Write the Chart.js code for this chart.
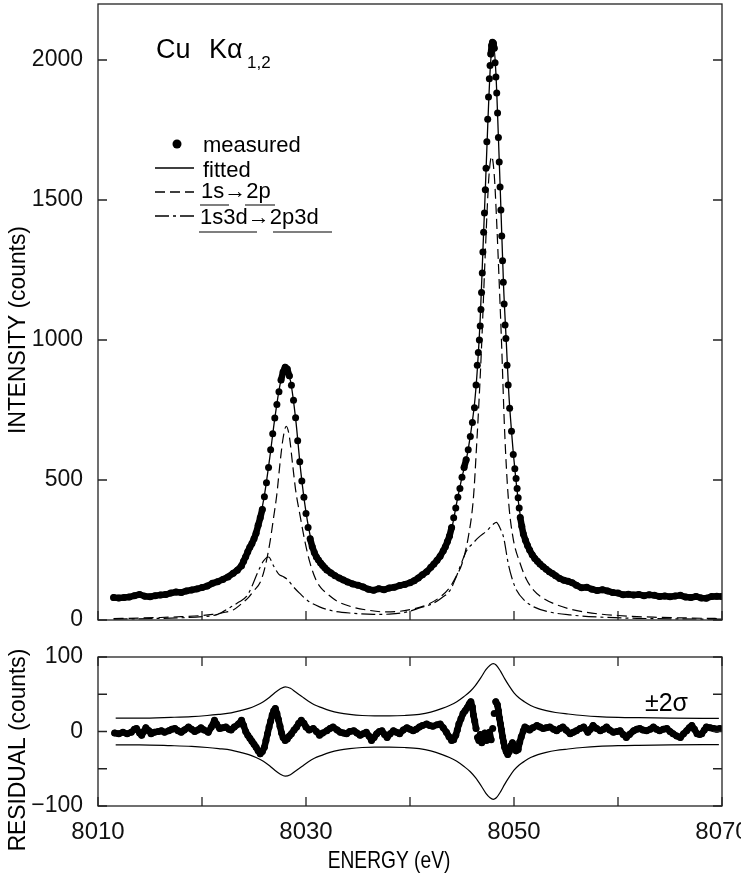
<!DOCTYPE html>
<html>
<head>
<meta charset="utf-8">
<script src="https://cdn.jsdelivr.net/npm/chart.js@4.4.0/dist/chart.umd.min.js"></script>
<style>
  body { margin: 0; background: #fff; width: 741px; height: 877px; overflow: hidden; position: relative; }
  canvas { position: absolute; left: 0; }
  #topChart { top: 0; }
  #residChart { top: 630px; }
</style>
</head>
<body>
<canvas id="topChart" width="741" height="630"></canvas>
<canvas id="residChart" width="741" height="247"></canvas>
<script>
// measured spectrum (eV, counts)
const measE = [8011.5,8012.0,8012.5,8013.0,8013.5,8014.0,8014.5,8015.0,8015.5,8016.0,8016.5,8017.0,8017.5,8018.0,8018.5,8019.0,8019.5,8020.0,8020.5,8021.0,8021.5,8022.0,8022.5,8023.0,8023.4,8023.8,8024.0,8024.2,8024.4,8024.6,8024.8,8025.0,8025.2,8025.4,8025.6,8025.8,8026.0,8026.2,8026.4,8026.6,8026.8,8027.0,8027.2,8027.4,8027.6,8027.8,8028.0,8028.2,8028.4,8028.6,8028.8,8029.0,8029.2,8029.4,8029.6,8029.8,8030.0,8030.2,8030.4,8030.6,8030.8,8031.0,8031.2,8031.4,8031.6,8031.8,8032.0,8032.4,8032.8,8033.2,8033.6,8034.0,8034.5,8035.0,8035.5,8036.0,8036.5,8037.0,8037.5,8038.0,8038.5,8039.0,8039.5,8040.0,8040.4,8040.8,8041.2,8041.6,8042.0,8042.3,8042.6,8042.9,8043.2,8043.4,8043.6,8043.8,8044.0,8044.2,8044.4,8044.6,8044.8,8045.0,8045.2,8045.4,8045.6,8045.8,8046.0,8046.2,8046.35,8046.47,8046.57,8046.67,8046.75,8046.82,8046.88,8046.95,8047.01,8047.08,8047.16,8047.24,8047.31,8047.39,8047.47,8047.55,8047.63,8047.70,8047.77,8047.85,8047.93,8048.02,8048.10,8048.18,8048.26,8048.34,8048.42,8048.50,8048.58,8048.66,8048.74,8048.82,8048.90,8048.97,8049.05,8049.14,8049.22,8049.33,8049.44,8049.58,8049.76,8049.93,8050.08,8050.2,8050.3,8050.4,8050.5,8050.6,8050.75,8050.9,8051.1,8051.3,8051.5,8051.75,8052.0,8052.25,8052.5,8052.8,8053.1,8053.4,8053.7,8054.0,8054.4,8054.8,8055.2,8055.6,8056.0,8056.5,8057.0,8057.5,8058.0,8058.5,8059.0,8059.5,8060.0,8060.5,8061.0,8061.5,8062.0,8062.5,8063.0,8063.5,8064.0,8064.5,8065.0,8065.5,8066.0,8066.5,8067.0,8067.5,8068.0,8068.5,8069.0,8069.5,8070.0];
const measI = [80,79,80,82,87,91,85,83,87,89,91,96,100,98,104,107,111,116,121,131,137,145,154,167,178,194,210,226,244,260,273,290,310,338,365,395,440,490,545,608,665,721,770,815,857,886,903,896,872,838,785,722,640,565,496,438,380,330,290,262,241,225,214,204,195,187,179,168,158,150,143,136,129,124,118,110,106,112,108,114,117,123,127,133,140,150,162,172,188,200,213,228,247,262,280,300,330,365,400,438,470,510,545,572,608,655,705,758,839,910,955,1000,1050,1109,1170,1239,1314,1385,1454,1537,1613,1708,1788,1868,1933,1980,2021,2052,2063,2060,2042,1990,1939,1882,1811,1723,1636,1546,1464,1371,1283,1206,1129,1054,1005,910,839,756,674,591,540,505,470,437,400,366,335,307,285,266,250,233,220,210,200,190,181,172,166,158,148,142,138,133,124,115,117,110,105,108,104,98,96,90,92,89,91,87,90,88,84,86,83,86,88,82,80,84,79,78,84,85,84];

// fitted total
const fitE = [8011.5,8013,8015,8017,8019,8020,8021,8022,8023,8023.5,8024,8024.5,8025,8025.5,8026,8026.5,8027,8027.5,8028,8028.5,8029,8029.5,8030,8030.5,8031,8031.5,8032,8033,8034,8035,8036,8037,8038,8039,8040,8041,8042,8042.5,8043,8043.5,8044,8044.5,8045,8045.5,8046,8046.25,8046.5,8046.75,8047,8047.25,8047.5,8047.75,8048,8048.25,8048.5,8048.75,8049,8049.25,8049.5,8049.75,8050,8050.5,8051,8051.5,8052,8053,8054,8055,8056,8057,8058,8059,8060,8062,8064,8066,8068,8070];
const fitI = [78,82,86,95,106,115,127,143,166,180,200,235,285,350,445,575,720,840,900,855,720,530,385,285,228,198,178,152,134,122,115,112,114,121,133,155,188,210,238,272,325,420,510,590,710,790,910,1075,1310,1545,1790,1990,2060,1960,1725,1460,1190,1000,810,680,570,400,295,250,218,182,156,138,124,114,106,101,96,91,87,85,83,82];

// 1s -> 2p component (dashed)
const diagE = [8011.5,8014,8016,8018,8020,8021,8022,8023,8023.7,8024.5,8025.0,8025.6,8026.0,8026.5,8026.9,8027.2,8027.5,8027.8,8028.1,8028.4,8028.7,8029.0,8029.4,8029.9,8030.4,8031.0,8031.5,8032.0,8033.0,8034.5,8036.0,8037.5,8039.0,8040.0,8041.0,8041.9,8043.0,8043.85,8044.5,8045.0,8045.6,8046.1,8046.4,8046.7,8046.9,8047.15,8047.4,8047.6,8047.85,8048.1,8048.3,8048.55,8048.8,8049.1,8049.45,8049.9,8050.6,8051.2,8051.9,8052.8,8053.8,8055.5,8057.0,8060.0,8063.4,8067.0,8070.0];
const diagI = [5,7,9,12,16,20,26,36,55,82,105,135,180,270,370,450,560,650,692,655,560,465,379,280,202,140,112,95,67,46,35,29,31,37,46,59,85,118,160,201,295,437,620,830,993,1230,1450,1590,1655,1590,1450,1230,993,674,437,295,201,145,106,78,59,38,27,16,10,7,5];

// 1s3d -> 2p3d satellite (dash-dot)
const satE = [8011.5,8015,8018,8020,8021.5,8022.7,8023.5,8024.3,8024.8,8025.3,8025.9,8026.4,8026.9,8027.4,8027.8,8028.2,8028.8,8029.4,8030.2,8031.3,8032.5,8034.5,8036.5,8038.0,8039.5,8041.0,8042.2,8043.0,8043.85,8044.4,8044.8,8045.45,8046.0,8046.6,8047.4,8048.0,8048.3,8048.7,8049.0,8049.45,8049.8,8050.25,8051.0,8051.9,8053.5,8055.4,8058.0,8061.8,8066.0,8070.0];
const satI = [3,5,8,12,20,45,63,85,120,165,210,225,192,163,155,145,118,95,68,47,33,24,20,21,27,44,59,78,106,150,189,248,272,295,319,342,349,325,295,201,150,106,70,47,28,18,11,6,4,3];

// residual (counts)
const resE = [8011.6,8012.0,8012.4,8012.8,8013.2,8013.5,8013.7,8014.0,8014.2,8014.4,8014.6,8014.9,8015.1,8015.4,8015.8,8016.1,8016.4,8016.8,8017.1,8017.4,8017.7,8018.0,8018.3,8018.7,8019.0,8019.3,8019.6,8019.9,8020.2,8020.6,8020.9,8021.2,8021.4,8021.7,8022.0,8022.3,8022.6,8022.8,8023.1,8023.5,8023.8,8024.0,8024.2,8024.4,8024.6,8024.8,8025.0,8025.2,8025.4,8025.6,8025.8,8026.0,8026.15,8026.3,8026.45,8026.6,8026.75,8026.9,8027.05,8027.2,8027.35,8027.5,8027.65,8027.8,8028.0,8028.2,8028.4,8028.6,8028.85,8029.1,8029.3,8029.55,8029.8,8030.0,8030.3,8030.7,8031.0,8031.3,8031.6,8032.0,8032.3,8032.6,8033.0,8033.3,8033.6,8033.9,8034.2,8034.6,8034.9,8035.2,8035.5,8035.8,8036.05,8036.3,8036.55,8036.8,8037.05,8037.3,8037.55,8037.8,8038.1,8038.4,8038.7,8039.0,8039.35,8039.7,8040.0,8040.3,8040.6,8040.9,8041.2,8041.6,8041.9,8042.2,8042.6,8042.9,8043.2,8043.5,8043.75,8044.0,8044.2,8044.4,8044.55,8044.7,8044.9,8045.1,8045.3,8045.5,8045.7,8045.85,8046.0,8046.1,8046.22,8046.35,8046.5,8046.62,8046.75,8046.9,8047.05,8047.2,8047.35,8047.5,8047.65,8047.8,8047.95,8048.1,8048.25,8048.4,8048.5,8048.6,8048.7,8048.8,8048.9,8049.0,8049.1,8049.25,8049.4,8049.55,8049.7,8049.85,8050.0,8050.2,8050.4,8050.55,8050.7,8050.9,8051.05,8051.3,8051.5,8051.8,8052.2,8052.5,8052.8,8053.1,8053.45,8053.8,8054.1,8054.4,8054.7,8055.0,8055.4,8055.7,8056.0,8056.35,8056.7,8057.1,8057.35,8057.6,8057.95,8058.3,8058.6,8058.9,8059.2,8059.55,8059.9,8060.2,8060.5,8060.8,8061.1,8061.5,8061.8,8062.1,8062.4,8062.75,8063.1,8063.4,8063.7,8064.0,8064.35,8064.7,8065.0,8065.3,8065.65,8066.0,8066.3,8066.6,8066.85,8067.1,8067.35,8067.6,8067.85,8068.05,8068.3,8068.5,8068.85,8069.2,8069.5,8069.8];
const resV = [-2,-3,-1,-3,-1,3,4,-2,-5,0,5,1,-3,-1,0,1,-1,1,3,4,1,-1,2,6,3,0,2,5,2,-1,6,15,10,4,5,6,3,2,6,10,15,8,0,-5,-9,-13,-17,-21,-26,-30,-27,-21,-12,-3,6,14,22,28,31,24,16,7,-2,-8,-12,-10,-6,-3,2,6,11,15,11,6,2,4,0,-5,-2,1,4,6,2,-1,-2,-3,0,1,-2,-5,-3,-1,-6,-12,-8,-3,0,1,-4,-8,-3,1,-1,-3,2,5,3,1,3,6,8,10,8,7,9,10,5,-1,-7,-12,-11,-5,2,10,17,24,28,32,37,40,33,22,14,4,-8,-12,-4,-15,-9,-2,-12,-5,-1,-11,4,24,40,36,28,18,10,2,-7,-14,-21,-27,-31,-27,-19,-15,-19,-26,-24,-14,-7,1,6,4,2,5,8,6,4,5,6,3,1,4,6,2,-3,-1,1,4,6,-1,3,8,4,1,3,6,2,-1,0,1,-4,-8,-4,1,3,4,2,1,3,6,3,1,3,4,0,-3,-6,-8,-3,1,5,8,3,-3,-4,-3,2,6,5,4,3,4];

// +/- 2 sigma envelope
const sigE = [8011.7,8014,8017,8019,8020.5,8021.6,8022.8,8023.7,8024.5,8025.2,8025.9,8026.5,8027.0,8027.5,8028.0,8028.5,8029.0,8029.6,8030.2,8030.8,8031.5,8032.3,8033.2,8034.2,8035.4,8036.6,8038.0,8039.5,8040.9,8042.0,8043.1,8043.8,8044.5,8045.2,8045.8,8046.3,8046.8,8047.3,8047.7,8048.0,8048.3,8048.7,8049.1,8049.5,8050.0,8050.5,8051.0,8051.6,8052.3,8053.1,8054.0,8055.2,8056.6,8058.1,8060,8062,8065,8069.7];
const sigUp = [18,18,19,20,21.5,23,25,28,31,35,40,46,52,57,60,58,53,47,41,36,32,28,25,23,21.5,21,21,21.5,23,26,31,35,40,47,54,62,72,83,89,91,89,81,71,62,52,45,40,35,31,28,25.5,23.5,21.5,20,19,18.5,18,17.5];
const sigLo = [-18,-18,-19,-20,-21.5,-23,-25,-28,-31,-35,-40,-46,-52,-57,-60,-58,-53,-47,-41,-36,-32,-28,-25,-23,-21.5,-21,-21,-21.5,-23,-26,-31,-35,-40,-47,-54,-62,-72,-83,-89,-91,-89,-81,-71,-62,-52,-45,-40,-35,-31,-28,-25.5,-23.5,-21.5,-20,-19,-18.5,-18,-17.5];

// axes
const energyTicks = [8010, 8020, 8030, 8040, 8050, 8060, 8070];
const energyLabels = [8010, 8030, 8050, 8070];
const intensityTicks = [0, 500, 1000, 1500, 2000];
const residTicks = [-100, -50, 0, 50, 100];
const residLabels = { '-100': '\u2212100', '0': '0', '100': '100' };

const FONT = '"Liberation Sans", Arial, sans-serif';
const DASH = [10, 5];
const DASHDOT = [14, 4, 3, 4];

const zip = (xs, ys) => xs.map((x, i) => ({ x: x, y: ys[i] }));

// thick band where the dots overlap, nothing where they are apart
const bandColor = c => Math.hypot(c.p1.x - c.p0.x, c.p1.y - c.p0.y) < 9 ? '#000' : 'rgba(0,0,0,0)';

// keep the plot box where the figure has it
const noPad = s => { s.paddingLeft = 0; s.paddingRight = 0; s.paddingTop = 0; s.paddingBottom = 0; };

function text(ctx, str, x, y, size, align) {
    ctx.font = size + 'px ' + FONT;
    ctx.textAlign = align || 'left';
    ctx.textBaseline = 'alphabetic';
    ctx.fillText(str, x, y);
}

function vtitle(ctx, str, x, y, size) {
    ctx.save();
    ctx.translate(x, y);
    ctx.rotate(-Math.PI / 2);
    ctx.scale(0.95, 1);
    ctx.font = size + 'px ' + FONT;
    ctx.textAlign = 'center';
    ctx.textBaseline = 'middle';
    ctx.fillText(str, 0, 0);
    ctx.restore();
}

const frame = {
    id: 'frame',
    afterDatasetsDraw(chart, args, o) {
        const { ctx, chartArea: a, scales: { x, y } } = chart;
        ctx.save();
        ctx.strokeStyle = '#222';
        ctx.lineWidth = 1.3;
        ctx.strokeRect(a.left, a.top, a.right - a.left, a.bottom - a.top);
        ctx.beginPath();
        o.xMarks.forEach(v => {
            const px = x.getPixelForValue(v);
            ctx.moveTo(px, a.bottom); ctx.lineTo(px, a.bottom - 9);
            if (o.topMarks) { ctx.moveTo(px, a.top); ctx.lineTo(px, a.top + 9); }
        });
        o.yMarks.forEach(v => {
            const py = y.getPixelForValue(v);
            ctx.moveTo(a.left, py); ctx.lineTo(a.left + 9, py);
            ctx.moveTo(a.right, py); ctx.lineTo(a.right - 9, py);
        });
        ctx.stroke();
        ctx.fillStyle = '#000';
        ctx.strokeStyle = '#000';
        o.draw(ctx);
        ctx.restore();
    }
};

function drawTopText(ctx) {
    text(ctx, 'Cu', 156, 58, 27);
    text(ctx, 'K\u03b1', 209, 58, 27);
    text(ctx, '1,2', 247, 68, 17);

    // legend
    ctx.beginPath(); ctx.arc(177, 144, 4.5, 0, Math.PI * 2); ctx.fill();
    ctx.lineWidth = 1.3;
    ctx.beginPath(); ctx.moveTo(155, 168); ctx.lineTo(194, 168); ctx.stroke();
    ctx.setLineDash(DASH);
    ctx.beginPath(); ctx.moveTo(155, 192); ctx.lineTo(194, 192); ctx.stroke();
    ctx.setLineDash(DASHDOT);
    ctx.beginPath(); ctx.moveTo(155, 216); ctx.lineTo(194, 216); ctx.stroke();
    ctx.setLineDash([]);
    text(ctx, 'measured', 203, 152, 22);
    text(ctx, 'fitted', 203, 177, 22);
    text(ctx, '1s\u21922p', 201, 198, 22);
    text(ctx, '1s3d\u21922p3d', 200, 224, 22);
    ctx.lineWidth = 1.2;
    ctx.beginPath();
    ctx.moveTo(200, 205); ctx.lineTo(229, 205);
    ctx.moveTo(245, 205); ctx.lineTo(275, 205);
    ctx.moveTo(199, 232); ctx.lineTo(257, 232);
    ctx.moveTo(273, 232); ctx.lineTo(332, 232);
    ctx.stroke();

    vtitle(ctx, 'INTENSITY (counts)', 18, 330, 24);
}

function drawResidText(ctx) {
    text(ctx, '\u00b12\u03c3', 645, 81, 25);
    vtitle(ctx, 'RESIDUAL (counts)', 18, 120, 24);
    ctx.save();
    ctx.translate(389, 231);
    ctx.scale(0.8, 1);
    ctx.font = '24px ' + FONT;
    ctx.textAlign = 'center';
    ctx.textBaseline = 'middle';
    ctx.fillText('ENERGY (eV)', 0, 0);
    ctx.restore();
}

const common = {
    responsive: false,
    animation: false,
    devicePixelRatio: 1,
    events: [],
    plugins: { legend: { display: false }, tooltip: { enabled: false } }
};

new Chart(document.getElementById('topChart'), {
    type: 'scatter',
    data: {
        datasets: [
            {
                data: zip(measE, measI), showLine: true, borderWidth: 6.5,
                borderCapStyle: 'round', borderJoinStyle: 'round',
                segment: { borderColor: bandColor },
                pointRadius: 3.5, pointBorderWidth: 0, pointBackgroundColor: '#000', order: 4
            },
            {
                data: zip(fitE, fitI), showLine: true, borderColor: '#000', borderWidth: 1.3,
                cubicInterpolationMode: 'monotone', pointRadius: 0, order: 1
            },
            {
                data: zip(diagE, diagI), showLine: true, borderColor: '#000', borderWidth: 1.2,
                borderDash: DASH, cubicInterpolationMode: 'monotone', pointRadius: 0, order: 2
            },
            {
                data: zip(satE, satI), showLine: true, borderColor: '#000', borderWidth: 1.2,
                borderDash: DASHDOT, cubicInterpolationMode: 'monotone', pointRadius: 0, order: 3
            }
        ]
    },
    options: {
        ...common,
        layout: { padding: { top: 1, right: 19, left: 0, bottom: 0 } },
        scales: {
            x: {
                type: 'linear', min: 8010, max: 8070,
                ticks: { display: false }, grid: { display: false }, border: { display: false },
                afterFit: s => { s.height = 10; noPad(s); }
            },
            y: {
                min: 0, max: 2200,
                afterBuildTicks: s => { s.ticks = intensityTicks.map(v => ({ value: v })); },
                ticks: { font: { family: FONT, size: 23 }, color: '#111', padding: 15, callback: v => String(v) },
                grid: { display: false, drawTicks: false }, border: { display: false },
                afterFit: s => { s.width = 98; noPad(s); }
            }
        },
        plugins: {
            ...common.plugins,
            frame: { xMarks: energyTicks, yMarks: intensityTicks, topMarks: false, draw: drawTopText }
        }
    },
    plugins: [frame]
});

new Chart(document.getElementById('residChart'), {
    type: 'scatter',
    data: {
        datasets: [
            {
                data: zip(resE, resV), showLine: true, borderWidth: 6.5,
                borderCapStyle: 'round', borderJoinStyle: 'round',
                segment: { borderColor: bandColor },
                pointRadius: 3.5, pointBorderWidth: 0, pointBackgroundColor: '#000'
            },
            {
                data: zip(sigE, sigUp), showLine: true, borderColor: '#000', borderWidth: 1.2,
                cubicInterpolationMode: 'monotone', pointRadius: 0
            },
            {
                data: zip(sigE, sigLo), showLine: true, borderColor: '#000', borderWidth: 1.2,
                cubicInterpolationMode: 'monotone', pointRadius: 0
            }
        ]
    },
    options: {
        ...common,
        layout: { padding: { top: 27, right: 19, left: 0, bottom: 0 } },
        scales: {
            x: {
                type: 'linear', min: 8010, max: 8070,
                afterBuildTicks: s => { s.ticks = energyTicks.map(v => ({ value: v })); },
                ticks: {
                    font: { family: FONT, size: 24 }, color: '#111', padding: 12,
                    autoSkip: false, maxRotation: 0,
                    callback: v => energyLabels.includes(v) ? String(v) : ''
                },
                grid: { display: false, drawTicks: false }, border: { display: false },
                afterFit: s => { s.height = 71; noPad(s); }
            },
            y: {
                min: -100, max: 100,
                afterBuildTicks: s => { s.ticks = residTicks.map(v => ({ value: v })); },
                ticks: {
                    font: { family: FONT, size: 23 }, color: '#111', padding: 15,
                    callback: v => residLabels[String(v)] || ''
                },
                grid: { display: false, drawTicks: false }, border: { display: false },
                afterFit: s => { s.width = 98; noPad(s); }
            }
        },
        plugins: {
            ...common.plugins,
            frame: { xMarks: energyTicks, yMarks: residTicks, topMarks: true, draw: drawResidText }
        }
    },
    plugins: [frame]
});
</script>
</body>
</html>
